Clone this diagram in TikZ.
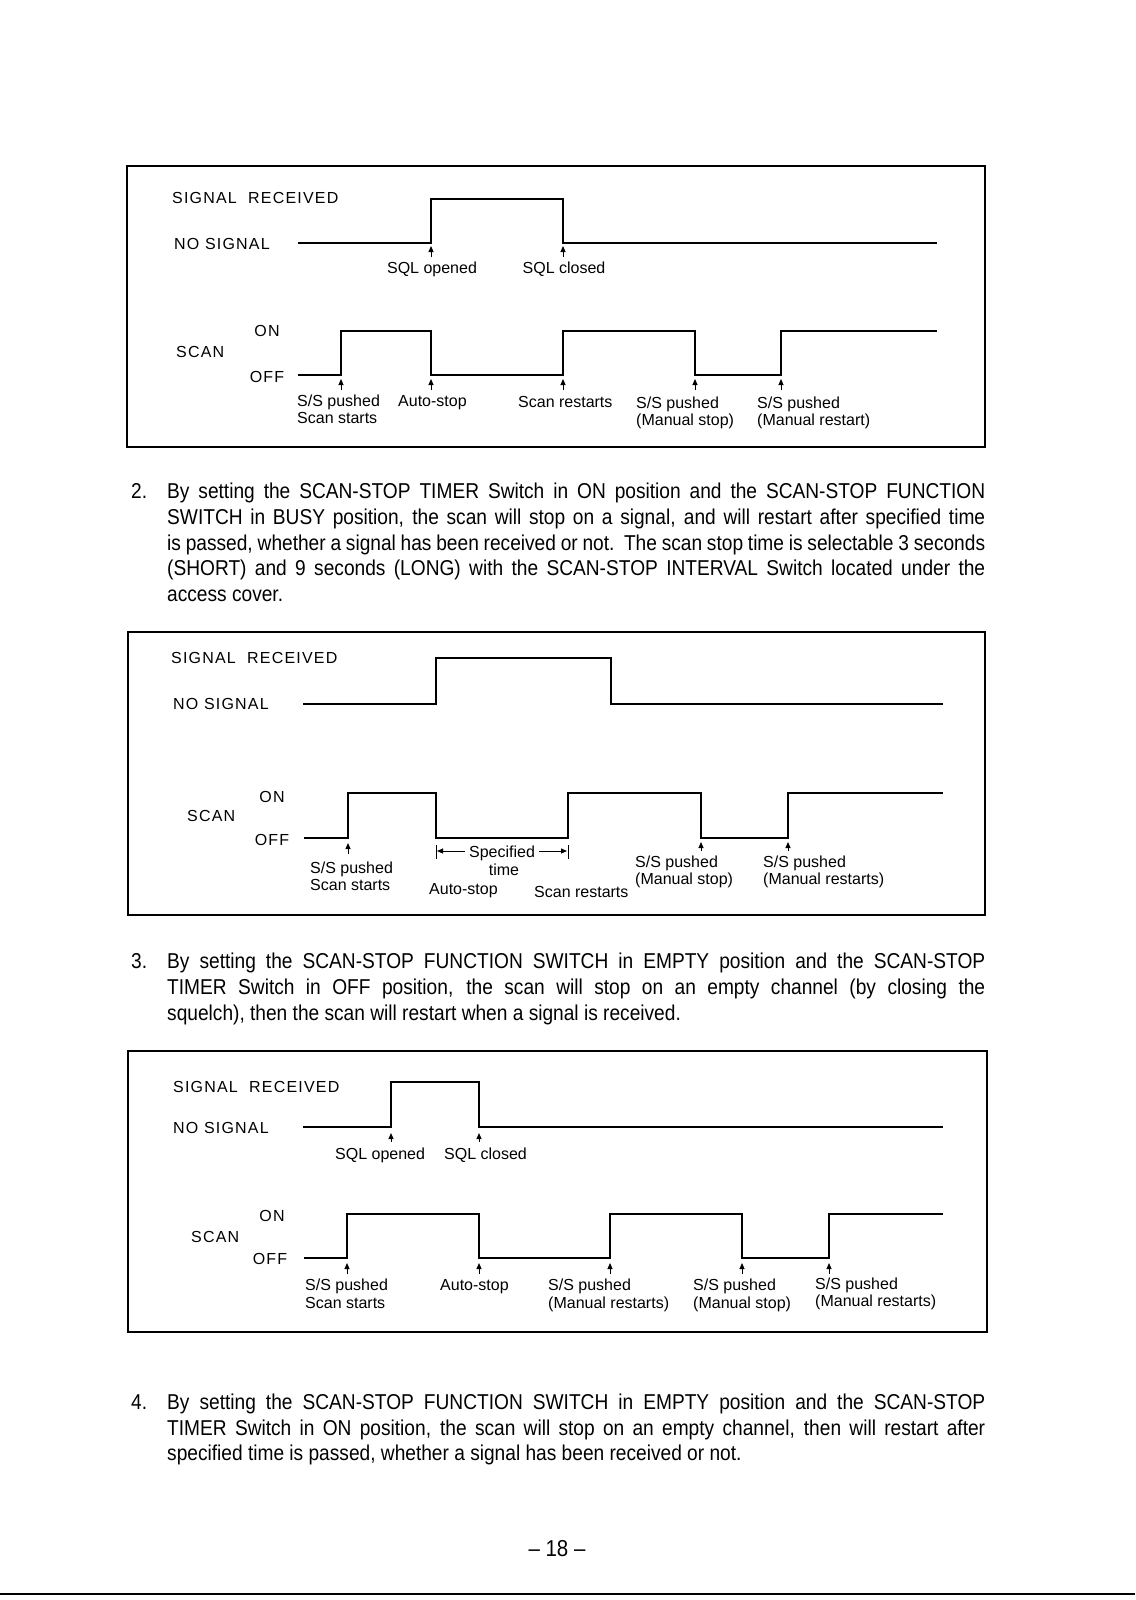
\documentclass[tikz,border=0pt]{standalone}
\usepackage{fontspec}
\setmainfont{Liberation Sans}
\newfontfamily\bodyfont[FakeStretch=0.89]{Liberation Sans}
\newfontfamily\capsfont[LetterSpace=7.5]{Liberation Sans}
\usetikzlibrary{arrows.meta}
\newcommand{\jline}[1]{\makebox[818pt][s]{#1}}
\begin{document}
\begin{tikzpicture}[x=1pt,y=-1pt,
  frame/.style={line width=1.3pt},
  wave/.style={line width=1.6pt, line join=miter},
  lbl/.style={font=\fontsize{16}{18}\selectfont, inner sep=0pt, anchor=base west},
  clbl/.style={lbl, anchor=base},
  caplbl/.style={lbl, font=\fontsize{16}{18}\capsfont},
  ccaplbl/.style={caplbl, anchor=base},
  evt/.style={-{Triangle[length=6pt,width=5pt]}, line width=1pt},
  dim/.style={-{Triangle[length=6pt,width=5pt]}, line width=1pt},
  body/.style={font=\fontsize{21.5}{24}\bodyfont, inner sep=0pt, anchor=base west},
]
\fill[white] (0,0) rectangle (1135,1600);
\useasboundingbox (0,0) rectangle (1135,1600);

% ---------------- Box 1 ----------------
\draw[frame] (127,166) rectangle (985,447);
\node[caplbl] (a1) at (172,203) {SIGNAL\ \ RECEIVED};
\node[caplbl] (a2) at (174,249) {NO SIGNAL};
\draw[wave] (298,243) -- (431,243) -- (431,199) -- (563,199) -- (563,243) -- (937,243);
\draw[evt] (431,257) -- (431,246);
\draw[evt] (563,257) -- (563,246);
\node[clbl] (a3) at (432,273) {SQL opened};
\node[clbl] (a4) at (564,273) {SQL closed};
\node[ccaplbl] (a5) at (267,336) {ON};
\node[caplbl] (a6) at (176,357) {SCAN};
\node[ccaplbl] (a7) at (267,382) {OFF};
\draw[wave] (298,375) -- (341,375) -- (341,331) -- (431,331) -- (431,375) -- (563,375) -- (563,331) -- (695,331) -- (695,375) -- (781,375) -- (781,331) -- (937,331);
\foreach \x in {341,431,563,695,781} \draw[evt] (\x,390) -- (\x,379);
\node[lbl] (a8) at (297,406) {S/S pushed};
\node[lbl] (a9) at (297,423) {Scan starts};
\node[lbl] (a10) at (398,406) {Auto-stop};
\node[lbl] (a11) at (518,407) {Scan restarts};
\node[lbl] (a12) at (636,408) {S/S pushed};
\node[lbl] (a13) at (636,425) {(Manual stop)};
\node[lbl] (a14) at (757,408) {S/S pushed};
\node[lbl] (a15) at (757,425) {(Manual restart)};

% ---------------- Paragraph 2 ----------------
\node[body] (p2n) at (131,498) {2.};
\node[body] (p2a) at (167,498) {\jline{By setting the SCAN-STOP TIMER Switch in ON position and the SCAN-STOP FUNCTION}};
\node[body] (p2b) at (167,524) {\jline{SWITCH in BUSY position, the scan will stop on a signal, and will restart after specified time}};
\node[body] (p2c) at (167,550) {\jline{is passed, whether a signal has been received or not.\ \ The scan stop time is selectable 3 seconds}};
\node[body] (p2d) at (167,575) {\jline{(SHORT) and 9 seconds (LONG) with the SCAN-STOP INTERVAL Switch located under the}};
\node[body] (p2e) at (167,601) {access cover.};

% ---------------- Box 2 ----------------
\draw[frame] (128,632) rectangle (985,915);
\node[caplbl] (b1) at (171,663) {SIGNAL\ \ RECEIVED};
\node[caplbl] (b2) at (173,709) {NO SIGNAL};
\draw[wave] (303,704) -- (436,704) -- (436,658) -- (611,658) -- (611,704) -- (943,704);
\node[ccaplbl] (b3) at (272,802) {ON};
\node[caplbl] (b4) at (187,821) {SCAN};
\node[ccaplbl] (b5) at (272,845) {OFF};
\draw[wave] (304,838) -- (348,838) -- (348,793) -- (436,793) -- (436,838) -- (568,838) -- (568,793) -- (701,793) -- (701,838) -- (788,838) -- (788,793) -- (943,793);
\draw[evt] (348,854) -- (348,843);
\draw[evt] (701,851) -- (701,842);
\draw[evt] (788,851) -- (788,842);
\draw[line width=1pt] (436,845) -- (436,859);
\draw[line width=1pt] (568,845) -- (568,859);
\node[clbl] (b6) at (502,857) {Specified};
\draw[dim] (b6.west |- 0,851) ++(-4,0) -- (437,851);
\draw[dim] (b6.east |- 0,851) ++(4,0) -- (567,851);
\node[clbl] (b7) at (504,875) {time};
\node[lbl] (b8) at (310,873) {S/S pushed};
\node[lbl] (b9) at (310,890) {Scan starts};
\node[lbl] (b10) at (429,894) {Auto-stop};
\node[lbl] (b11) at (534,897) {Scan restarts};
\node[lbl] (b12) at (635,867) {S/S pushed};
\node[lbl] (b13) at (635,884) {(Manual stop)};
\node[lbl] (b14) at (763,867) {S/S pushed};
\node[lbl] (b15) at (763,884) {(Manual restarts)};

% ---------------- Paragraph 3 ----------------
\node[body] (p3n) at (131,968.5) {3.};
\node[body] (p3a) at (167,968.5) {\jline{By setting the SCAN-STOP FUNCTION SWITCH in EMPTY position and the SCAN-STOP}};
\node[body] (p3b) at (167,994) {\jline{TIMER Switch in OFF position, the scan will stop on an empty channel (by closing the}};
\node[body] (p3c) at (167,1020.5) {squelch), then the scan will restart when a signal is received.};

% ---------------- Box 3 ----------------
\draw[frame] (128,1051) rectangle (987,1332);
\node[caplbl] (c1) at (173,1092) {SIGNAL\ \ RECEIVED};
\node[caplbl] (c2) at (173,1133) {NO SIGNAL};
\draw[wave] (303,1127) -- (391,1127) -- (391,1082) -- (479,1082) -- (479,1127) -- (943,1127);
\draw[evt] (391,1142) -- (391,1133);
\draw[evt] (479,1142) -- (479,1133);
\node[lbl] (c3) at (335,1159) {SQL opened};
\node[lbl] (c4) at (444,1159) {SQL closed};
\node[ccaplbl] (c5) at (272,1221) {ON};
\node[caplbl] (c6) at (191,1242) {SCAN};
\node[ccaplbl] (c7) at (270,1264) {OFF};
\draw[wave] (304,1258) -- (347,1258) -- (347,1214) -- (479,1214) -- (479,1258) -- (610,1258) -- (610,1214) -- (742,1214) -- (742,1258) -- (829,1258) -- (829,1214) -- (943,1214);
\foreach \x in {347,479,610,742,829} \draw[evt] (\x,1274) -- (\x,1263);
\node[lbl] (c8) at (305,1290) {S/S pushed};
\node[lbl] (c9) at (305,1308) {Scan starts};
\node[lbl] (c10) at (440,1290) {Auto-stop};
\node[lbl] (c11) at (548,1290) {S/S pushed};
\node[lbl] (c12) at (548,1308) {(Manual restarts)};
\node[lbl] (c13) at (693,1290) {S/S pushed};
\node[lbl] (c14) at (693,1308) {(Manual stop)};
\node[lbl] (c15) at (815,1289) {S/S pushed};
\node[lbl] (c16) at (815,1306) {(Manual restarts)};

% ---------------- Paragraph 4 ----------------
\node[body] (p4n) at (131,1409) {4.};
\node[body] (p4a) at (167,1409) {\jline{By setting the SCAN-STOP FUNCTION SWITCH in EMPTY position and the SCAN-STOP}};
\node[body] (p4b) at (167,1435) {\jline{TIMER Switch in ON position, the scan will stop on an empty channel, then will restart after}};
\node[body] (p4c) at (167,1460.5) {specified time is passed, whether a signal has been received or not.};

% ---------------- Footer ----------------
\node[body, anchor=base, font=\fontsize{23}{26}\bodyfont] (pg) at (557,1556) {– 18 –};
\draw[line width=2.5pt] (0,1594) -- (1135,1594);
\end{tikzpicture}
\end{document}
